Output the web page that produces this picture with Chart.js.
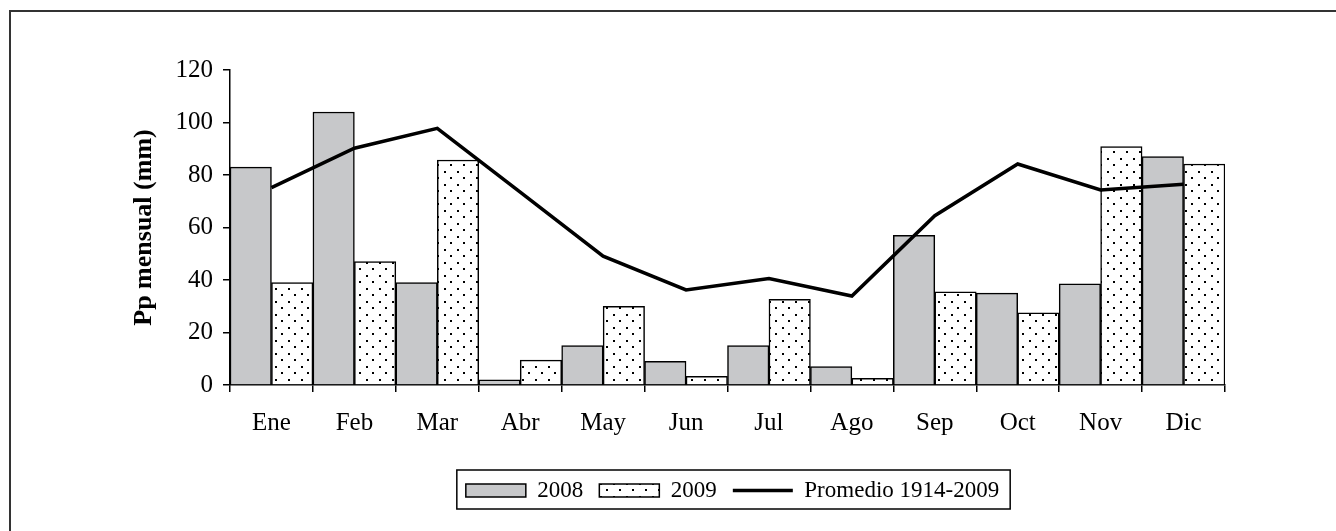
<!DOCTYPE html>
<html>
<head>
<meta charset="utf-8">
<script src="https://cdn.jsdelivr.net/npm/chart.js@4"></script>
<style>
  html, body { margin: 0; padding: 0; background: #fff; overflow: hidden; }
  #frame { position: absolute; left: 9px; top: 10px; width: 1400px; height: 600px; border: 2px solid #333; }
  #wrap { position: absolute; left: 0; top: 0; width: 1336px; height: 531px; }
</style>
</head>
<body>
<div id="frame"></div>
<div id="wrap"><canvas id="rainChart" width="1336" height="531"></canvas></div>
<script>
const months = ['Ene', 'Feb', 'Mar', 'Abr', 'May', 'Jun', 'Jul', 'Ago', 'Sep', 'Oct', 'Nov', 'Dic'];
const rain2008 = [83, 104, 39, 2, 15, 9, 15, 7, 57, 35, 38.5, 87];
const rain2009 = [39, 47, 85.7, 9.5, 30, 3.3, 32.6, 2.5, 35.5, 27.5, 90.8, 84.2];
const promedio = [75.2, 90.2, 97.8, 73.5, 49.1, 36.2, 40.6, 33.9, 64.5, 84.2, 74.3, 76.5];
const yTicks = [0, 20, 40, 60, 80, 100, 120];

// dotted fill for 2009
function dotPattern() {
    const c = document.createElement('canvas');
    c.width = 13; c.height = 13;
    const g = c.getContext('2d');
    g.fillStyle = '#fff';
    g.fillRect(0, 0, 13, 13);
    g.fillStyle = '#000';
    g.fillRect(2, 2, 2, 2);
    g.fillRect(8, 8, 2, 2);
    return g.createPattern(c, 'repeat');
}

const ctx = document.getElementById('rainChart').getContext('2d');
const dots = dotPattern();
const serif = "'Liberation Serif', 'DejaVu Serif', serif";
const legendPad = 16;
const legendFont = 23;

// push the legend to the right and draw a box round it
const legendFrame = {
    id: 'legendFrame',
    afterLayout(chart) {
        const lg = chart.legend;
        lg.left += 120;
        lg.right += 120;
    },
    afterDraw(chart) {
        const lg = chart.legend;
        if (!lg.lineWidths) return;
        const lw = lg.lineWidths[0];
        const x0 = (lg.left + legendPad + lg.right - lw) / 2;
        const y0 = lg.top + legendPad;
        const c = chart.ctx;
        c.save();
        c.strokeStyle = '#000';
        c.lineWidth = 1.5;
        c.strokeRect(x0 - 9, y0 - 9, lw - legendPad + 20, legendFont + 16);
        c.restore();
    }
};

const myChart = new Chart(ctx, {
    type: 'bar',
    data: {
        labels: months,
        datasets: [
            {
                label: '2008',
                data: rain2008,
                backgroundColor: '#c7c8ca',
                borderColor: '#000',
                borderWidth: 1.5,
                order: 1
            },
            {
                label: '2009',
                data: rain2009,
                backgroundColor: dots,
                borderColor: '#000',
                borderWidth: 1.5,
                order: 1
            },
            {
                type: 'line',
                label: 'Promedio 1914-2009',
                data: promedio,
                borderColor: '#000',
                backgroundColor: '#000',
                borderWidth: 3.5,
                pointRadius: 0,
                tension: 0,
                order: 0
            }
        ]
    },
    options: {
        responsive: false,
        animation: false,
        layout: { padding: { left: 0, right: 111, top: 70, bottom: 19 } },
        datasets: {
            bar: { categoryPercentage: 1, barPercentage: 1 }
        },
        scales: {
            x: {
                grid: { drawOnChartArea: false, color: '#000', lineWidth: 1.5, tickLength: 7, offset: true },
                border: { color: '#000', width: 1.5 },
                ticks: { color: '#000', font: { family: serif, size: 25 }, padding: 16 },
                afterFit(scale) { scale.height = 78; }
            },
            y: {
                min: 0,
                max: 120,
                afterBuildTicks(scale) { scale.ticks = yTicks.map(v => ({ value: v })); },
                grid: { drawOnChartArea: false, color: '#000', lineWidth: 1.5, tickLength: 7 },
                border: { color: '#000', width: 1.5 },
                ticks: { color: '#000', font: { family: serif, size: 25 }, padding: 10 },
                title: {
                    display: true,
                    text: 'Pp mensual (mm)',
                    color: '#000',
                    font: { family: serif, size: 26, weight: 'bold' },
                    padding: { top: 129, bottom: 0 }
                },
                afterFit(scale) { scale.width = 230; }
            }
        },
        plugins: {
            legend: {
                position: 'bottom',
                labels: {
                    color: '#000',
                    font: { family: serif, size: legendFont },
                    usePointStyle: true,
                    pointStyleWidth: 60,
                    boxHeight: 13,
                    padding: legendPad,
                    sort: (a, b) => a.datasetIndex - b.datasetIndex,
                    generateLabels(chart) {
                        return chart.data.datasets.map((ds, i) => ({
                            text: ds.label,
                            fillStyle: ds.backgroundColor,
                            strokeStyle: '#000',
                            lineWidth: ds.type === 'line' ? 3.5 : 1.5,
                            pointStyle: ds.type === 'line' ? 'line' : 'rect',
                            datasetIndex: i,
                            hidden: false
                        }));
                    }
                }
            },
            tooltip: { enabled: false }
        }
    },
    plugins: [legendFrame]
});
</script>
</body>
</html>
